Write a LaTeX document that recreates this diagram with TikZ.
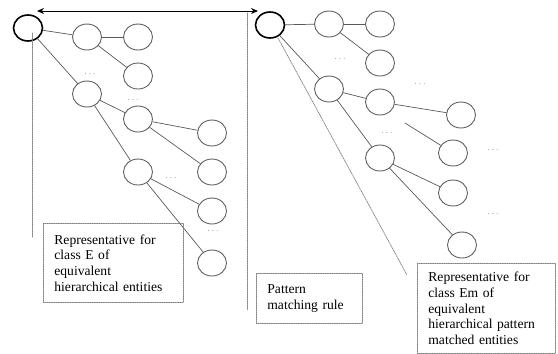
\documentclass[tikz,border=0pt]{standalone}
\usepackage{fontspec}
\setmainfont{Liberation Serif}
\usetikzlibrary{arrows.meta,shapes.geometric}

\begin{document}
\begin{tikzpicture}[x=1pt,y=-1pt,>={Stealth[length=7pt,width=6pt]},line cap=round,
  ent/.style={ellipse,draw=gray!75!black,line width=0.9pt,minimum width=29pt,minimum height=26pt,inner sep=0pt},
  rep/.style={ent,draw=black,line width=1.6pt},
  edge/.style={gray!70!black,line width=0.7pt},
  guide/.style={gray,densely dotted,line width=0.8pt},
  more/.style={text=gray!80!black,font=\fontsize{7.5}{7.5}\selectfont,inner sep=0pt},
  note/.style={draw=gray,densely dotted,line width=0.8pt,anchor=north west,align=left,inner xsep=11pt,
    font=\fontsize{13.6}{15.6}\selectfont}]
\useasboundingbox (0,0) rectangle (558,354);
% left tree
\node[rep] (lroot) at (28,28) {};
\node[ent] (la) at (87,37) {};
\node[ent] (lb) at (138,37) {};
\node[ent] (lc) at (138,76) {};
\node[ent] (ld) at (87,94) {};
\node[ent] (le) at (138,119) {};
\node[ent] (lf) at (212,133) {};
\node[ent] (lg) at (212,172) {};
\node[ent] (lh) at (138,172) {};
\node[ent] (li) at (212,211) {};
\node[ent] (lj) at (212,263) {};
\draw[edge] (lroot) -- (la);
\draw[edge] (la) -- (lb);
\draw[edge] (la) -- (lc);
\draw[edge] (lroot) -- (ld);
\draw[edge] (ld) -- (le);
\draw[edge] (ld) -- (lh);
\draw[edge] (le) -- (lf);
\draw[edge] (le) -- (lg);
\draw[edge] (lh) -- (li);
\draw[edge] (lh) -- (lj);
\node[more] (ldots1) at (90,74) {. . .};
\node[more] (ldots2) at (133,100) {. . .};
\node[more] (ldots3) at (171,178) {. . .};
\node[more] (ldots4) at (213,231) {. . .};
% right tree
\node[rep] (rroot) at (270,25) {};
\node[ent] (ra) at (329,24) {};
\node[ent] (rb) at (380,24) {};
\node[ent] (rc) at (380,63) {};
\node[ent] (rd) at (329,89) {};
\node[ent] (re) at (380,102) {};
\node[ent] (rf) at (461,115) {};
\node[ent] (rg) at (453,153) {};
\node[ent] (rh) at (380,158) {};
\node[ent] (ri) at (453,193) {};
\node[ent] (rj) at (462,245) {};
\coordinate (rgin) at (405,123);
\draw[edge] (rroot) -- (ra);
\draw[edge] (ra) -- (rb);
\draw[edge] (ra) -- (rc);
\draw[edge] (rroot) -- (rd);
\draw[edge] (rd) -- (re);
\draw[edge] (re) -- (rf);
\draw[edge] (rgin) -- (rg);
\draw[edge] (rd) -- (rh);
\draw[edge] (rh) -- (ri);
\draw[edge] (rh) -- (rj);
\node[more] (rdots1) at (340,59) {. . .};
\node[more] (rdots2) at (420,84) {. . .};
\node[more] (rdots3) at (387,133) {. . .};
\node[more] (rdots4) at (493,150) {. . .};
\node[more] (rdots5) at (493,214) {. . .};
% notes
\node[note,text width=118pt,minimum width=140pt,minimum height=79pt] (classE) at (43,223)
  {Representative for\\class E of\\equivalent\\hierarchical entities};
\node[note,text width=84pt,minimum width=106pt,minimum height=50pt] (rule) at (256,273)
  {Pattern\\matching rule};
\node[note,text width=116pt,minimum width=138pt,minimum height=90pt] (classEm) at (417,263)
  {Representative for\\class Em of\\equivalent\\hierarchical pattern\\matched entities};
% guides
\coordinate (lg1) at (32,33);
\coordinate (lg2) at (32,237);
\coordinate (mg1) at (247,13);
\coordinate (mg2) at (247,310);
\coordinate (rg1) at (278,38);
\coordinate (rg2) at (407,275);
\draw[guide] (lg1) -- (lg2);
\draw[guide] (mg1) -- (mg2);
\draw[guide] (rg1) -- (rg2);
\coordinate (al) at (37,11);
\coordinate (ar) at (258,11);
\draw[<->,line width=1pt] (al) -- (ar);
\end{tikzpicture}
\end{document}
